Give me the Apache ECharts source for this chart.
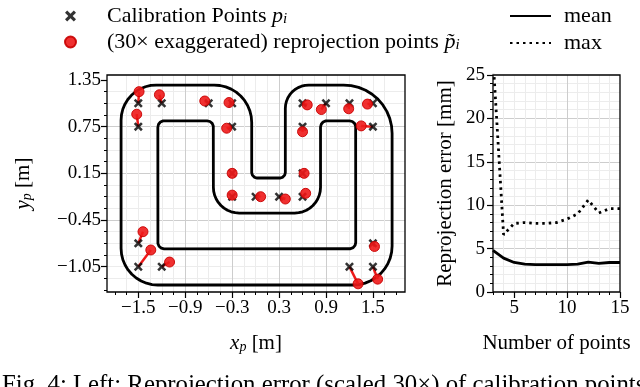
<!DOCTYPE html>
<html>
<head>
<meta charset="utf-8">
<script src="https://cdn.jsdelivr.net/npm/echarts@6/dist/echarts.min.js"></script>
<style>
  html, body { margin: 0; padding: 0; background: #fff; }
  #chart { width: 640px; height: 387px; }
</style>
</head>
<body>
<div id="chart"></div>
<script>
const SERIF = '"Liberation Serif", "DejaVu Serif", serif'
const RED = '#ee1a1a'

// calibration points p_i [m]
const calibX = [-1.5, -1.5, -1.2, -0.6, -0.3, -0.3, -0.3, -0.3, 0, 0.3, 0.6, 0.6,
  0.6, 0.6, 0.9, 1.2, 1.5, 1.5, 1.5, 1.2, 1.5, -1.5, -1.5, -1.2]
const calibY = [1.05, 0.75, 1.05, 1.05, 1.05, 0.75, 0.15, -0.15, -0.15, -0.15, -0.15, 0.15,
  0.75, 1.05, 1.05, 1.05, 1.05, 0.75, -0.75, -1.05, -1.05, -0.75, -1.05, -1.05]
// reprojected points (error scaled 30x) [m]
const reprojX = [-1.49, -1.52, -1.23, -0.65, -0.34, -0.37, -0.3, -0.3, 0.064, 0.38, 0.64, 0.62,
  0.6, 0.66, 0.84, 1.19, 1.43, 1.35, 1.52, 1.31, 1.56, -1.44, -1.34, -1.1]
const reprojY = [1.2, 0.91, 1.16, 1.08, 1.06, 0.73, 0.15, -0.13, -0.15, -0.18, -0.107, 0.15,
  0.685, 1.03, 0.97, 0.98, 1.04, 0.76, -0.79, -1.27, -1.21, -0.6, -0.835, -0.99]

// track outline corners: [x, y, corner radius]
const outerCorners = [[-1.72, 1.285, 0.45], [-0.05, 1.285, 0.48], [-0.05, 0.09, 0.07], [0.38, 0.09, 0.07],
  [0.38, 1.285, 0.3], [1.745, 1.285, 0.62], [1.745, -1.285, 0.5], [-1.72, -1.285, 0.47]]
const innerCorners = [[-1.25, 0.825, 0.08], [-0.54, 0.825, 0.08], [-0.54, -0.36, 0.33], [0.83, -0.36, 0.33],
  [0.83, 0.825, 0.08], [1.28, 0.825, 0.08], [1.28, -0.82, 0.08], [-1.25, -0.82, 0.08]]

const leftXMajor = [-1.5, -0.9, -0.3, 0.3, 0.9, 1.5]
const leftYMajor = [-1.05, -0.45, 0.15, 0.75, 1.35]

// right panel: error vs number of points [mm]
const numPoints = [3, 4, 5, 6, 7, 8, 9, 10, 11, 12, 13, 14, 15]
const meanErr = [4.8, 3.9, 3.4, 3.2, 3.15, 3.15, 3.15, 3.15, 3.2, 3.45, 3.3, 3.4, 3.4]
const maxErr = [27, 6.6, 7.9, 8.0, 7.9, 7.9, 8.0, 8.4, 9.0, 10.6, 9.1, 9.6, 9.6]
const rightXMajor = [5, 10, 15]

function steps(from, to, step) {
  const out = []
  for (let v = from; v <= to + 1e-9; v += step) out.push(Math.round(v * 100) / 100)
  return out
}
const leftXMinor = steps(-1.8, 1.8, 0.15)
const leftYMinor = steps(-1.35, 1.35, 0.15)

function roundedOutline(corners, n = 10) {
  const pts = []
  corners.forEach(([vx, vy, r], i) => {
    const [px, py] = corners[(i - 1 + corners.length) % corners.length]
    const [nx, ny] = corners[(i + 1) % corners.length]
    const l1 = Math.hypot(px - vx, py - vy)
    const l2 = Math.hypot(nx - vx, ny - vy)
    const d1 = [(px - vx) / l1, (py - vy) / l1]
    const d2 = [(nx - vx) / l2, (ny - vy) / l2]
    const cx = vx + r * (d1[0] + d2[0])
    const cy = vy + r * (d1[1] + d2[1])
    const a0 = Math.atan2(vy + r * d1[1] - cy, vx + r * d1[0] - cx)
    const a1 = Math.atan2(vy + r * d2[1] - cy, vx + r * d2[0] - cx)
    let da = a1 - a0
    if (da > Math.PI) da -= 2 * Math.PI
    if (da < -Math.PI) da += 2 * Math.PI
    for (let k = 0; k <= n; k += 1) {
      const a = a0 + (da * k) / n
      pts.push([cx + r * Math.cos(a), cy + r * Math.sin(a)])
    }
  })
  pts.push(pts[0])
  return pts
}

const fmt = (d) => (v) => (v < 0 ? '\u2212' : '') + Math.abs(v).toFixed(d)

const mathRich = (size) => ({
  it: { fontFamily: SERIF, fontStyle: 'italic', fontSize: size, color: '#000' },
  sub: { fontFamily: SERIF, fontStyle: 'italic', fontSize: Math.round(size * 0.68), color: '#000', verticalAlign: 'bottom', lineHeight: 10 },
})
const text = (size) => ({ fontFamily: SERIF, fontSize: size, color: '#000' })

const noLine = { show: false, onZero: false }
const minorTick = { show: true, length: 3, lineStyle: { color: '#000', width: 1 } }
const majorTick = { show: true, length: 6, lineStyle: { color: '#000', width: 1.2 } }
const minorGrid = { show: true, showMinLine: false, showMaxLine: false, lineStyle: { color: '#ececec', width: 1 } }
const majorGrid = { show: true, showMinLine: false, showMaxLine: false, lineStyle: { color: '#cdcdcd', width: 1 } }

const legendText = {
  calib: 'Calibration Points {it|p}{sub|i}',
  reproj: '(30\u00d7 exaggerated) reprojection points {it|p\u0303}{sub|i}',
  mean: 'mean',
  max: 'max',
}

const X_MARK = 'path://M2,0 L5,3 L8,0 L10,2 L7,5 L10,8 L8,10 L5,7 L2,10 L0,8 L3,5 L0,2 Z'

const chart = echarts.init(document.getElementById('chart'))
chart.setOption({
  animation: false,
  grid: [
    { left: 107, top: 75, width: 298, height: 217, show: true, z: 10, borderColor: '#000', borderWidth: 1.3, backgroundColor: 'transparent' },
    { left: 493, top: 75, width: 127, height: 217, show: true, z: 10, borderColor: '#000', borderWidth: 1.3, backgroundColor: 'transparent' },
  ],
  legend: [
    {
      left: 59, top: 0, orient: 'vertical', itemWidth: 63, itemHeight: 11, itemGap: 4,
      data: ['calib', 'reproj'], formatter: (n) => legendText[n], selectedMode: false,
      textStyle: { ...text(22), rich: mathRich(22) },
    },
    {
      left: 504, top: 0, orient: 'vertical', itemWidth: 41, itemHeight: 14, itemGap: 5,
      data: ['mean', 'max'], formatter: (n) => legendText[n], selectedMode: false,
      itemStyle: { opacity: 0 },
      textStyle: { ...text(22), padding: [0, 0, 0, 8] },
    },
  ],
  xAxis: [
    { gridIndex: 0, type: 'value', min: -1.9, max: 1.91, position: 'bottom', axisLine: noLine,
      axisTick: { ...minorTick, customValues: leftXMinor }, axisLabel: { show: false }, splitLine: minorGrid },
    { gridIndex: 0, type: 'value', min: -1.9, max: 1.91, position: 'bottom', axisLine: noLine,
      axisTick: { ...majorTick, customValues: leftXMajor },
      axisLabel: { customValues: leftXMajor, formatter: fmt(1), margin: 7, ...text(19) },
      splitLine: majorGrid,
      name: '{it|x}{sub|p} [m]', nameLocation: 'middle', nameGap: 41,
      nameTextStyle: { ...text(21), rich: mathRich(21) } },
    { gridIndex: 1, type: 'value', min: 3, max: 15, interval: 1, position: 'bottom', axisLine: noLine,
      axisTick: minorTick, axisLabel: { show: false }, splitLine: minorGrid },
    { gridIndex: 1, type: 'value', min: 3, max: 15, position: 'bottom', axisLine: noLine,
      axisTick: { ...majorTick, customValues: rightXMajor },
      axisLabel: { customValues: rightXMajor, margin: 7, ...text(19) },
      splitLine: majorGrid,
      name: 'Number of points', nameLocation: 'middle', nameGap: 41, nameTextStyle: text(21) },
  ],
  yAxis: [
    { gridIndex: 0, type: 'value', min: -1.375, max: 1.414, position: 'left', axisLine: noLine,
      axisTick: { ...minorTick, customValues: leftYMinor }, axisLabel: { show: false }, splitLine: minorGrid },
    { gridIndex: 0, type: 'value', min: -1.375, max: 1.414, position: 'left', axisLine: noLine,
      axisTick: { ...majorTick, customValues: leftYMajor },
      axisLabel: { customValues: leftYMajor, formatter: fmt(2), margin: 6, ...text(19) },
      splitLine: majorGrid,
      name: '{it|y}{sub|p} [m]', nameLocation: 'middle', nameGap: 73,
      nameTextStyle: { ...text(21), rich: mathRich(21) } },
    { gridIndex: 1, type: 'value', min: 0, max: 25, interval: 5, position: 'left', axisLine: noLine,
      axisTick: majorTick, minorTick: { ...minorTick, splitNumber: 5 },
      axisLabel: { margin: 8, ...text(19) },
      splitLine: majorGrid, minorSplitLine: { show: true, lineStyle: { color: '#ececec', width: 1 } },
      name: 'Reprojection error [mm]', nameLocation: 'middle', nameGap: 37, nameTextStyle: text(21) },
  ],
  series: [
    { name: 'outer', type: 'line', xAxisIndex: 0, yAxisIndex: 0, data: roundedOutline(outerCorners),
      symbol: 'none', lineStyle: { color: '#000', width: 2.8 }, z: 2 },
    { name: 'inner', type: 'line', xAxisIndex: 0, yAxisIndex: 0, data: roundedOutline(innerCorners),
      symbol: 'none', lineStyle: { color: '#000', width: 2.8 }, z: 2 },
    { name: 'offsets', type: 'lines', coordinateSystem: 'cartesian2d', xAxisIndex: 0, yAxisIndex: 0,
      data: calibX.map((x, i) => ({ coords: [[x, calibY[i]], [reprojX[i], reprojY[i]]] })),
      lineStyle: { color: RED, width: 2.5, opacity: 1 }, z: 3 },
    { name: 'calib', type: 'scatter', xAxisIndex: 0, yAxisIndex: 0, data: calibX.map((x, i) => [x, calibY[i]]),
      symbol: X_MARK, symbolSize: 9, itemStyle: { color: '#000' }, z: 4 },
    { name: 'reproj', type: 'scatter', xAxisIndex: 0, yAxisIndex: 0, data: reprojX.map((x, i) => [x, reprojY[i]]),
      symbol: 'circle', symbolSize: 10, itemStyle: { color: RED, borderColor: '#c80000', borderWidth: 1, opacity: 0.9 }, z: 5 },
    { name: 'mean', type: 'line', xAxisIndex: 2, yAxisIndex: 2, data: numPoints.map((n, i) => [n, meanErr[i]]),
      symbol: 'none', itemStyle: { color: '#000' }, lineStyle: { color: '#000', width: 2.8 }, z: 3 },
    { name: 'max', type: 'line', xAxisIndex: 2, yAxisIndex: 2, data: numPoints.map((n, i) => [n, maxErr[i]]),
      symbol: 'none', itemStyle: { color: '#000' }, lineStyle: { color: '#000', width: 2.8, type: [2.5, 4] }, z: 3 },
  ],
  graphic: [
    { type: 'text', left: 2, top: 373, silent: true,
      style: { text: 'Fig. 4: Left: Reprojection error (scaled 30\u00d7) of calibration points', fill: '#000', font: '24.8px ' + SERIF } },
  ],
})
</script>
</body>
</html>
